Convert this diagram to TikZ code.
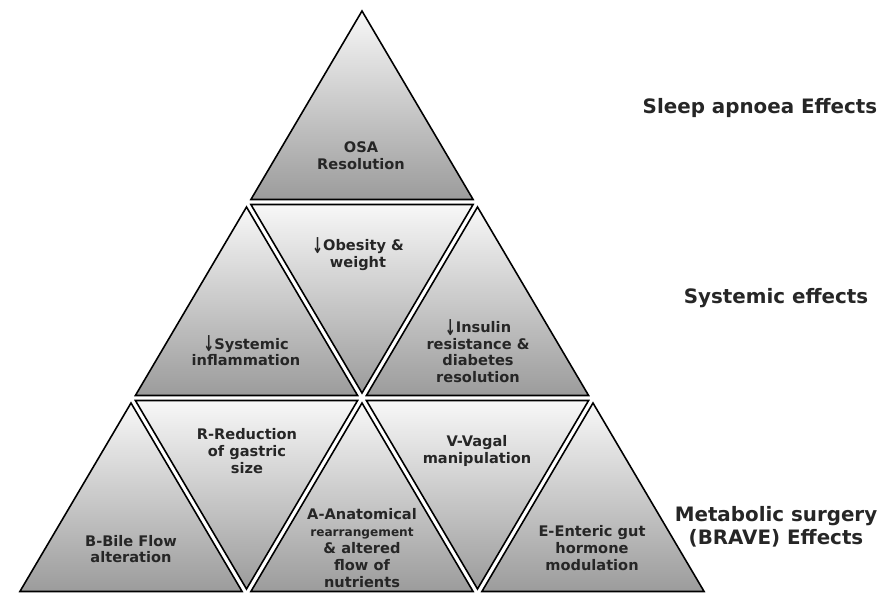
\documentclass[tikz,border=0pt]{standalone}
\usepackage{fontspec}
\setmainfont{DejaVu Sans}
\usepackage{tikz}
\newcommand{\dnarrow}{\smash{\raisebox{-0.2em}{\scalebox{0.9}[1.5]{↓}}}}

\begin{document}
\begin{tikzpicture}[
  tri/.style={draw=black,line width=0.9pt,top color=black!3,bottom color=black!39},
  inner/.style={font=\fontsize{8.3}{9.6}\selectfont\bfseries,align=center,text=black!85},
  side/.style={font=\fontsize{11.3}{13}\selectfont\bfseries,align=center,text=black!85},
]
\useasboundingbox (0,0) rectangle (17.8,11.88);

\shadedraw[tri] (7.24,11.66) -- (9.462,7.89) -- (5.018,7.89) -- cycle;

\shadedraw[tri] (4.93,7.74) -- (7.152,3.97) -- (2.708,3.97) -- cycle;
\shadedraw[tri] (5.018,7.79) -- (9.462,7.79) -- (7.24,4.02) -- cycle;
\shadedraw[tri] (9.55,7.74) -- (11.772,3.97) -- (7.328,3.97) -- cycle;

\shadedraw[tri] (2.62,3.82) -- (4.842,0.05) -- (0.398,0.05) -- cycle;
\shadedraw[tri] (2.708,3.87) -- (7.152,3.87) -- (4.93,0.10) -- cycle;
\shadedraw[tri] (7.24,3.82) -- (9.462,0.05) -- (5.018,0.05) -- cycle;
\shadedraw[tri] (7.328,3.87) -- (11.772,3.87) -- (9.55,0.10) -- cycle;
\shadedraw[tri] (11.86,3.82) -- (14.082,0.05) -- (9.638,0.05) -- cycle;

\node[inner] (osa) at (7.22,8.76) {OSA\\Resolution};
\node[inner] (obesity) at (7.16,6.78) {\dnarrow Obesity \&\\weight};
\node[inner] (inflam) at (4.92,4.84) {\dnarrow Systemic\\inflammation};
\node[inner] (insulin) at (9.56,4.84) {\dnarrow Insulin\\resistance \&\\diabetes\\resolution};
\node[inner] (bile) at (2.62,0.90) {B-Bile Flow\\alteration};
\node[inner] (reduct) at (4.94,2.86) {R-Reduction\\of gastric\\size};
\node[inner] (anat) at (7.24,0.92) {A-Anatomical\\{\fontsize{6.9}{9.6}\selectfont rearrangement}\\\& altered\\flow of\\nutrients};
\node[inner] (vagal) at (9.54,2.86) {V-Vagal\\manipulation};
\node[inner] (enteric) at (11.84,0.92) {E-Enteric gut\\hormone\\modulation};

\node[side] (sleep) at (15.2,9.72) {Sleep apnoea Effects};
\node[side] (systemic) at (15.52,5.92) {Systemic effects};
\node[side] (brave) at (15.52,1.34) {Metabolic surgery\\(BRAVE) Effects};
\end{tikzpicture}
\end{document}
